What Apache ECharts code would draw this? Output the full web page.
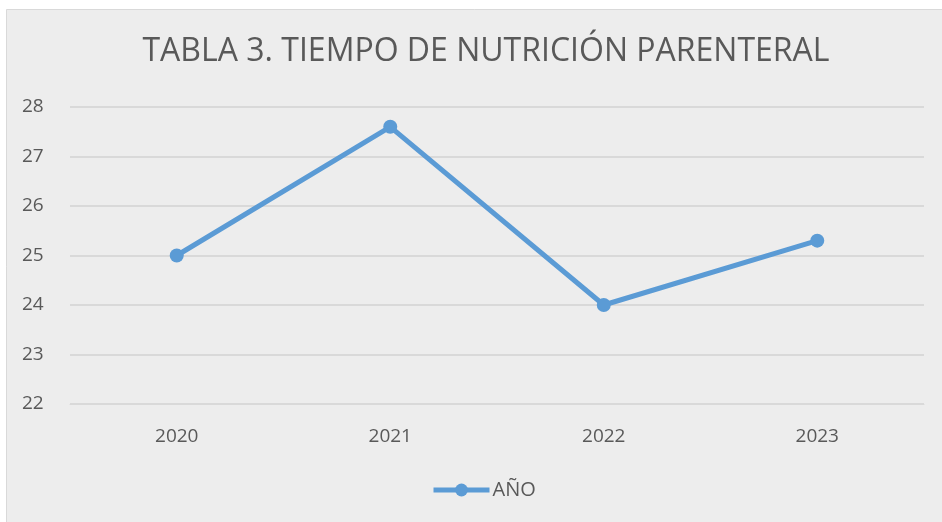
<!DOCTYPE html>
<html><head><meta charset="utf-8">
<script src="https://cdn.jsdelivr.net/npm/echarts@6/dist/echarts.min.js"></script>
<style>html,body{margin:0;padding:0;background:#fff}#c{width:942px;height:522px}</style>
</head><body><div id="c"></div>
<script>
const categories = ['2020', '2021', '2022', '2023'];
const values = [25, 27.6, 24, 25.3];
const seriesName = 'AÑO';
const titleText = 'TABLA 3. TIEMPO DE NUTRICIÓN PARENTERAL';
const yMin = 22, yMax = 28, yStep = 1;

const chart = echarts.init(document.getElementById('c'), null, {renderer: 'canvas'});
const font = '"Open Sans", "Noto Sans", sans-serif';
chart.setOption({
  animation: false,
  textStyle: {fontFamily: font},
  graphic: [{
    type: 'rect', z: -10, silent: true,
    shape: {x: 6.5, y: 9.5, width: 940, height: 520},
    style: {fill: '#ededed', stroke: '#d9d9d9', lineWidth: 1}
  }],
  title: {
    text: titleText, left: 481, top: 31, textAlign: 'center',
    textStyle: {fontFamily: font, fontSize: 32, fontWeight: 'normal', color: '#595959'}
  },
  legend: {
    data: [seriesName], left: 426, top: 475, itemWidth: 56, itemHeight: 16, itemGap: 3,
    lineStyle: {width: 5, color: '#5b9bd5'},
    itemStyle: {color: '#5b9bd5'},
    textStyle: {fontFamily: font, fontSize: 20, color: '#595959', padding: [0, 0, 0, -2]}
  },
  grid: {left: 70, right: 18, top: 107, bottom: 118, outerBoundsMode: 'none', containLabel: false},
  xAxis: {
    type: 'category', data: categories, boundaryGap: true,
    axisLine: {show: true, lineStyle: {color: '#d9d9d9', width: 1}},
    axisTick: {show: false},
    axisLabel: {color: '#595959', fontSize: 19, margin: 23, fontFamily: font}
  },
  yAxis: {
    type: 'value', min: yMin, max: yMax, interval: yStep,
    axisLine: {show: false}, axisTick: {show: false},
    axisLabel: {color: '#595959', fontSize: 19, margin: 48, align: 'left', fontFamily: font},
    splitLine: {lineStyle: {color: '#d9d9d9', width: 2}}
  },
  series: [{
    name: seriesName, type: 'line', data: values,
    lineStyle: {color: '#5b9bd5', width: 5},
    itemStyle: {color: '#5b9bd5'},
    symbol: 'circle', symbolSize: 14,
    emphasis: {disabled: true}
  }]
});
</script></body></html>
